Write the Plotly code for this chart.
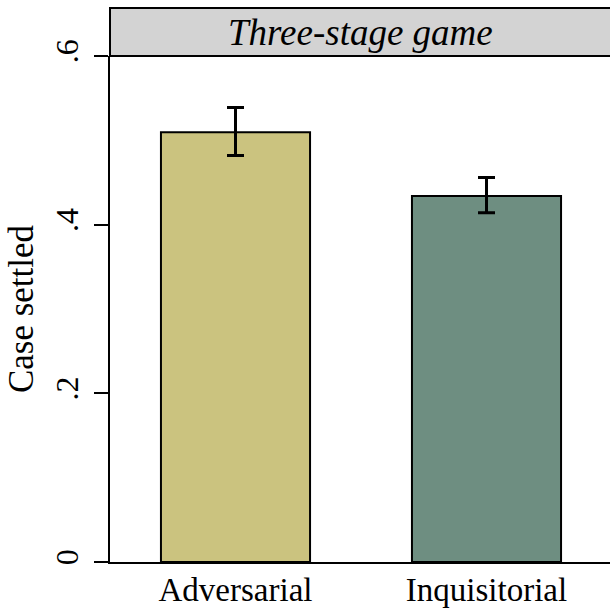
import plotly.graph_objects as go

categories = ["Adversarial", "Inquisitorial"]
means = [0.5095, 0.434]
ci_upper = [0.539, 0.456]
ci_lower = [0.482, 0.414]
bar_colors = ["#CBC37F", "#6E8E81"]
y_ticks = [0, 0.2, 0.4, 0.6]
y_tick_labels = ["0", ".2", ".4", ".6"]
panel_title = "Three-stage game"
y_title = "Case settled"

err_plus = [u - m for u, m in zip(ci_upper, means)]
err_minus = [m - l for m, l in zip(means, ci_lower)]

font = "Liberation Serif, Times New Roman, serif"

fig = go.Figure()
fig.add_trace(go.Bar(
    x=categories, y=means, width=0.594,
    marker=dict(color=bar_colors, line=dict(color="black", width=2)),
    error_y=dict(type="data", symmetric=False, array=err_plus, arrayminus=err_minus,
                 color="black", thickness=3, width=8.5),
    showlegend=False,
))

fig.update_layout(
    width=610, height=609,
    margin=dict(l=110, r=0, t=56, b=47, autoexpand=False),
    paper_bgcolor="white", plot_bgcolor="white",
    font=dict(family=font, color="black", size=32),
    xaxis=dict(range=[-0.5, 1.492], showline=True, linecolor="black", linewidth=2,
               ticks="", showgrid=False, zeroline=False, automargin=False,
               tickfont=dict(size=33), ticklabelstandoff=-3),
    yaxis=dict(range=[0, 0.6], tickvals=y_ticks, ticktext=y_tick_labels,
               tickangle=-90, ticks="outside", ticklen=14, tickwidth=2, tickcolor="black",
               showline=True, linecolor="black", linewidth=2, showgrid=False, zeroline=False,
               tickfont=dict(size=32), automargin=False, ticklabelstandoff=3,
               title=dict(text=y_title, font=dict(size=35), standoff=5)),
    shapes=[dict(type="rect", xref="paper", yref="paper", x0=0, x1=1.01,
                 y0=1, y1=1 + 48 / 506, fillcolor="#D3D3D3",
                 line=dict(color="black", width=2), layer="above")],
    annotations=[dict(text="<i>" + panel_title + "</i>", xref="paper", yref="paper",
                      x=0.5, y=1 + 24 / 506, xanchor="center", yanchor="middle",
                      showarrow=False, font=dict(size=37, family=font))],
)

fig.write_html("out.html", config={"displayModeBar": False},
               post_script="document.body.style.margin='0';")
